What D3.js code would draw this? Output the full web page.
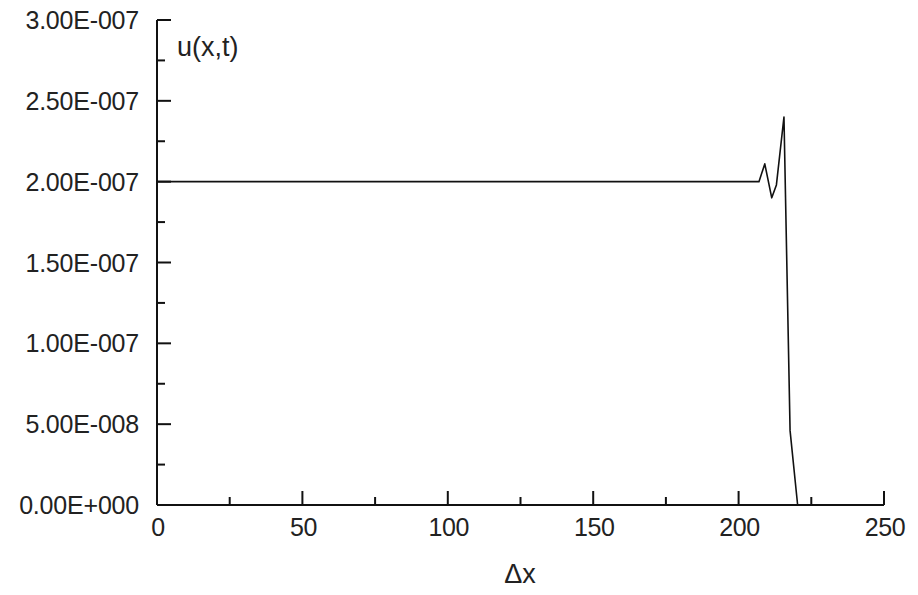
<!DOCTYPE html>
<html>
<head>
<meta charset="utf-8">
<script src="https://cdn.jsdelivr.net/npm/d3@7"></script>
<style>
  body { margin: 0; background: #fff; }
  text { font-family: "Liberation Sans", Arial, sans-serif; fill: #222; }
</style>
</head>
<body>
<div id="chart"></div>
<script>
// data
var xs = [0, 207, 209, 211.4, 213, 215.6, 217.7, 220.3];
var us = [2.0e-7, 2.0e-7, 2.11e-7, 1.9e-7, 1.98e-7, 2.4e-7, 0.46e-7, 0];

var xTicks = [0, 50, 100, 150, 200, 250];
var xMinor = [25, 75, 125, 175, 225];
var yTicks = [0, 5e-8, 1e-7, 1.5e-7, 2e-7, 2.5e-7, 3e-7];
var yLabels = ["0.00E+000", "5.00E-008", "1.00E-007", "1.50E-007", "2.00E-007", "2.50E-007", "3.00E-007"];
var yMinor = [2.5e-8, 7.5e-8, 1.25e-7, 1.75e-7, 2.25e-7, 2.75e-7];

var width = 918,
    height = 595;

var x = d3.scaleLinear().domain([0, 250]).range([157, 884]);
var y = d3.scaleLinear().domain([0, 3e-7]).range([505, 20]);

var svg = d3.select('#chart')
    .append('svg')
    .attr('width', width)
    .attr('height', height);

// axes lines
svg.append('line')
    .attr('x1', x(0)).attr('x2', x(0))
    .attr('y1', y(3e-7)).attr('y2', y(0))
    .attr('stroke', '#111').attr('stroke-width', 2);
svg.append('line')
    .attr('x1', x(0)).attr('x2', x(250))
    .attr('y1', y(0)).attr('y2', y(0))
    .attr('stroke', '#111').attr('stroke-width', 2);

// y ticks
svg.selectAll('.ytick')
    .data(yTicks)
    .enter().append('line')
    .attr('x1', x(0)).attr('x2', x(0) + 14)
    .attr('y1', function(d) { return y(d); })
    .attr('y2', function(d) { return y(d); })
    .attr('stroke', '#111').attr('stroke-width', 2);
svg.selectAll('.yminor')
    .data(yMinor)
    .enter().append('line')
    .attr('x1', x(0)).attr('x2', x(0) + 8)
    .attr('y1', function(d) { return y(d); })
    .attr('y2', function(d) { return y(d); })
    .attr('stroke', '#111').attr('stroke-width', 2);
svg.selectAll('.ylab')
    .data(yTicks)
    .enter().append('text')
    .attr('x', x(0) - 18)
    .attr('y', function(d) { return y(d); })
    .attr('dy', '0.36em')
    .attr('text-anchor', 'end')
    .style('font-size', '25px')
    .style('letter-spacing', '-0.2px')
    .text(function(d, i) { return yLabels[i]; });

// x ticks
svg.selectAll('.xtick')
    .data(xTicks)
    .enter().append('line')
    .attr('x1', function(d) { return x(d); })
    .attr('x2', function(d) { return x(d); })
    .attr('y1', y(0)).attr('y2', y(0) - 14)
    .attr('stroke', '#111').attr('stroke-width', 2);
svg.selectAll('.xminor')
    .data(xMinor)
    .enter().append('line')
    .attr('x1', function(d) { return x(d); })
    .attr('x2', function(d) { return x(d); })
    .attr('y1', y(0)).attr('y2', y(0) - 8)
    .attr('stroke', '#111').attr('stroke-width', 2);
svg.selectAll('.xlab')
    .data(xTicks)
    .enter().append('text')
    .attr('x', function(d) { return x(d) + 1; })
    .attr('y', 536)
    .attr('text-anchor', 'middle')
    .style('font-size', '25px')
    .style('letter-spacing', '-0.4px')
    .text(function(d) { return d; });

// axis titles
svg.append('text')
    .attr('x', 177).attr('y', 56)
    .style('font-size', '27px')
    .text('u(x,t)');
svg.append('text')
    .attr('x', 520).attr('y', 583)
    .attr('text-anchor', 'middle')
    .style('font-size', '27px')
    .text('\u0394x');

// the curve
var line = d3.line()
    .x(function(d, i) { return x(xs[i]); })
    .y(function(d) { return y(d); });

svg.append('path')
    .datum(us)
    .attr('d', line)
    .attr('fill', 'none')
    .attr('stroke', '#111')
    .attr('stroke-width', 1.6)
    .attr('stroke-linejoin', 'round');
</script>
</body>
</html>
